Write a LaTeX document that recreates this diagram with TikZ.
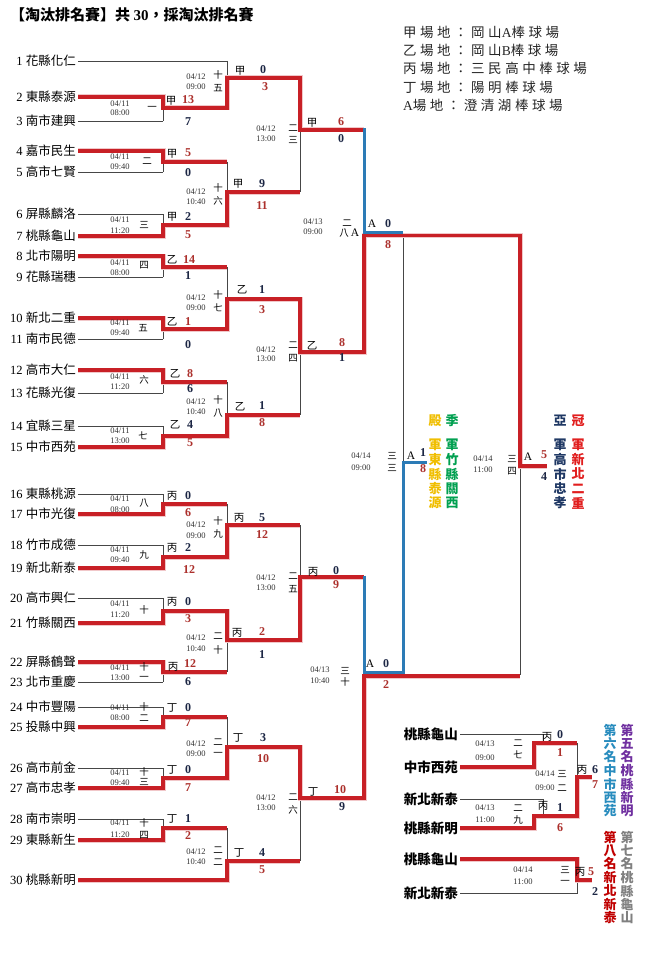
\documentclass[tikz,border=0pt]{standalone}
\usepackage{fontspec}
\setmainfont{Liberation Serif}
\newfontfamily\cjk{Noto Sans CJK TC}
\newfontfamily\cjkls[LetterSpace=26]{Noto Sans CJK TC}
\definecolor{wred}{RGB}{200,32,38}
\definecolor{sred}{RGB}{172,48,44}
\definecolor{snavy}{RGB}{28,38,68}
\definecolor{bblue}{RGB}{44,123,182}
\definecolor{thinc}{RGB}{70,70,70}
\definecolor{cgold}{RGB}{240,190,0}
\definecolor{cgreen}{RGB}{0,160,80}
\definecolor{cnavy}{RGB}{31,56,100}
\definecolor{cred}{RGB}{225,30,30}
\definecolor{cpurple}{RGB}{112,48,160}
\definecolor{cteal}{RGB}{40,140,190}
\definecolor{cgray}{RGB}{128,128,128}
\definecolor{cdred}{RGB}{192,0,0}
\tikzset{
  thinln/.style={draw=thinc, line width=0.8pt},
  redln/.style={draw=wred, line width=3.2pt, preaction={draw=wred!25, line width=5pt}},
  blueln/.style={draw=bblue, line width=3pt},
  team/.style={anchor=east, inner sep=0pt, font=\fontsize{12.5}{13}\selectfont},
  cteam/.style={anchor=east, inner sep=0pt, font=\cjk\bfseries\fontsize{13.5}{14}\selectfont},
  dt/.style={inner sep=0pt, font=\fontsize{8.5}{9}\selectfont, text=black!80},
  gno/.style={inner sep=0pt, font=\cjk\fontsize{9.5}{10}\selectfont},
  ven/.style={inner sep=0pt, font=\cjk\fontsize{10.5}{11}\selectfont},
  venA/.style={inner sep=0pt, font=\fontsize{11.5}{12}\selectfont},
  sw/.style={inner sep=0pt, font=\bfseries\fontsize{12}{12}\selectfont, text=sred},
  sl/.style={inner sep=0pt, font=\bfseries\fontsize{12}{12}\selectfont, text=snavy},
  vch/.style={inner sep=0pt, font=\cjk\bfseries\fontsize{13}{13}\selectfont},
  leg/.style={anchor=west, inner sep=0pt, font=\cjkls\fontsize{13.5}{14}\selectfont, text=black!85},
}
\newcommand\DT[6]{\node[dt] (#1d) at (#2,#3) {#5}; \node[dt] (#1t) at (#2,#4) {#6};}
\newcommand\LB[5]{\node[#2] (#1) at (#3,#4) {#5};}
\begin{document}
\begin{tikzpicture}[x=1pt,y=-1pt]
\useasboundingbox (0,0) rectangle (648,960);
\fill[white] (0,0) rectangle (648,960);

% title and legend
\node[anchor=west, inner sep=0pt, font=\cjk\bfseries\fontsize{15}{15}\selectfont] (title) at (10,15) {【淘汰排名賽】共 {\rmfamily\bfseries 30}，採淘汰排名賽};
\node[leg] (leg1) at (403,32) {甲場地：岡山{\rmfamily A}棒球場};
\node[leg] (leg2) at (403,50) {乙場地：岡山{\rmfamily B}棒球場};
\node[leg] (leg3) at (403,68) {丙場地：三民高中棒球場};
\node[leg] (leg4) at (403,87) {丁場地：陽明棒球場};
\node[leg] (leg5) at (403,105) {{\rmfamily A}場地：澄清湖棒球場};

% teams
\foreach \n/\y/\nm/\e in {1/61/花縣化仁/227, 2/97/東縣泰源/163, 3/121/南市建興/163, 4/151/嘉市民生/163, 5/172/高市七賢/163, 6/214/屏縣麟洛/163, 7/236/桃縣龜山/163, 8/256/北市陽明/163, 9/277/花縣瑞穗/163, 10/318/新北二重/163, 11/339/南市民德/163, 12/370/高市大仁/163, 13/393/花縣光復/163, 14/426/宜縣三星/163, 15/447/中市西苑/163, 16/494/東縣桃源/163, 17/514/中市光復/163, 18/545/竹市成德/163, 19/568/新北新泰/163, 20/598/高市興仁/163, 21/623/竹縣關西/163, 22/662/屏縣鶴聲/163, 23/682/北市重慶/163, 24/707/中市豐陽/163, 25/727/投縣中興/163, 26/768/高市前金/163, 27/788/高市忠孝/163, 28/819/南市崇明/163, 29/840/東縣新生/163, 30/880/桃縣新明/227}{
  \node[team] (t\n) at (76,\y) {\n\ {\cjk\nm}};
  \draw[thinln] ([xshift=2pt]t\n.east) -- (\e,\y);
}

% thin bracket lines
\foreach \a/\b/\o in {97/121/108, 151/172/162, 214/236/225, 256/277/267, 318/339/329, 370/393/382, 426/447/436, 494/514/504, 545/568/557, 598/623/611, 662/682/672, 707/727/717, 768/788/778, 819/840/828}
  \draw[thinln] (163,\a) -- (163,\b) (163,\o) -- (227,\o);
\foreach \a/\b/\o in {61/108/78, 162/225/192, 267/329/299, 382/436/415, 504/557/525, 611/672/640, 717/778/747, 828/880/861}
  \draw[thinln] (227,\a) -- (227,\b) (227,\o) -- (300,\o);
\foreach \a/\b/\o in {78/192/130, 299/415/352, 525/640/577, 747/861/798}
  \draw[thinln] (300,\a) -- (300,\b) (300,\o) -- (364,\o);
\draw[thinln] (364,130) -- (364,352) (364,577) -- (364,798);
\draw[thinln] (364,235) -- (520,235) (364,675) -- (520,675);
\draw[thinln] (403,235) -- (403,675) (403,462) -- (427,462);
\draw[thinln] (520,235) -- (520,675) (520,466) -- (547,466);

% winner paths
\draw[redln] ([xshift=2pt]t2.east) -- (163,97) -- (163,108) -- (227,108) -- (227,78) -- (300,78) -- (300,130) -- (364,130);
\draw[redln] ([xshift=2pt]t4.east) -- (163,151) -- (163,162) -- (227,162);
\draw[redln] ([xshift=2pt]t7.east) -- (163,236) -- (163,225) -- (227,225) -- (227,192) -- (300,192);
\draw[redln] ([xshift=2pt]t8.east) -- (163,256) -- (163,267) -- (227,267);
\draw[redln] ([xshift=2pt]t10.east) -- (163,318) -- (163,329) -- (227,329) -- (227,299) -- (300,299) -- (300,352) -- (364,352) -- (364,235.5) -- (520,235.5) -- (520,466) -- (547,466);
\draw[redln] ([xshift=2pt]t12.east) -- (163,370) -- (163,382) -- (227,382);
\draw[redln] ([xshift=2pt]t15.east) -- (163,447) -- (163,436) -- (227,436) -- (227,415) -- (300,415);
\draw[redln] ([xshift=2pt]t17.east) -- (163,514) -- (163,504) -- (227,504);
\draw[redln] ([xshift=2pt]t19.east) -- (163,568) -- (163,557) -- (227,557) -- (227,525) -- (300,525);
\draw[redln] ([xshift=2pt]t21.east) -- (163,623) -- (163,611) -- (227,611) -- (227,640) -- (300,640) -- (300,577) -- (364,577);
\draw[redln] ([xshift=2pt]t22.east) -- (163,662) -- (163,672) -- (227,672);
\draw[redln] ([xshift=2pt]t25.east) -- (163,727) -- (163,717) -- (227,717);
\draw[redln] ([xshift=2pt]t27.east) -- (163,788) -- (163,778) -- (227,778) -- (227,747) -- (300,747) -- (300,798) -- (364,798) -- (364,676) -- (520,676);
\draw[redln] ([xshift=2pt]t29.east) -- (163,840) -- (163,828) -- (227,828);
\draw[redln] ([xshift=2pt]t30.east) -- (227,880) -- (227,861) -- (300,861);
\draw[blueln] (364,128.5) -- (364,232.5) -- (403,232.5);
\draw[blueln] (364,575.5) -- (364,672.5) -- (403,672.5) -- (403,462) -- (427,462);

% round 1 labels
\DT{g1}{120}{104}{113}{04/11}{08:00}  \LB{g1n}{gno}{152}{108}{一}
\LB{g1v}{ven}{171}{101}{甲} \LB{g1a}{sw}{188}{100}{13} \LB{g1b}{sl}{188}{122}{7}
\DT{g2}{120}{157}{167}{04/11}{09:40}  \LB{g2n}{gno}{147}{161}{二}
\LB{g2v}{ven}{172}{154}{甲} \LB{g2a}{sw}{188}{153}{5} \LB{g2b}{sl}{188}{173}{0}
\DT{g3}{120}{220}{231}{04/11}{11:20}  \LB{g3n}{gno}{144}{225}{三}
\LB{g3v}{ven}{172}{217}{甲} \LB{g3a}{sl}{188}{217}{2} \LB{g3b}{sw}{188}{235}{5}
\DT{g4}{120}{263}{273}{04/11}{08:00}  \LB{g4n}{gno}{144}{265}{四}
\LB{g4v}{ven}{172}{260}{乙} \LB{g4a}{sw}{189}{260}{14} \LB{g4b}{sl}{188}{276}{1}
\DT{g5}{120}{323}{333}{04/11}{09:40}  \LB{g5n}{gno}{143}{328}{五}
\LB{g5v}{ven}{172}{322}{乙} \LB{g5a}{sw}{188}{322}{1} \LB{g5b}{sl}{188}{345}{0}
\DT{g6}{120}{377}{387}{04/11}{11:20}  \LB{g6n}{gno}{144}{380}{六}
\LB{g6v}{ven}{175}{374}{乙} \LB{g6a}{sw}{190}{374}{8} \LB{g6b}{sl}{190}{389}{6}
\DT{g7}{120}{431}{441}{04/11}{13:00}  \LB{g7n}{gno}{143}{436}{七}
\LB{g7v}{ven}{175}{425}{乙} \LB{g7a}{sl}{190}{425}{4} \LB{g7b}{sw}{190}{443}{5}
\DT{g8}{120}{499}{510}{04/11}{08:00}  \LB{g8n}{gno}{144}{503}{八}
\LB{g8v}{ven}{172}{496}{丙} \LB{g8a}{sl}{188}{496}{0} \LB{g8b}{sw}{188}{513}{6}
\DT{g9}{120}{550}{560}{04/11}{09:40}  \LB{g9n}{gno}{144}{555}{九}
\LB{g9v}{ven}{172}{548}{丙} \LB{g9a}{sl}{188}{548}{2} \LB{g9b}{sw}{189}{570}{12}
\DT{g10}{120}{604}{615}{04/11}{11:20}  \LB{g10n}{gno}{144}{610}{十}
\LB{g10v}{ven}{172}{602}{丙} \LB{g10a}{sl}{188}{602}{0} \LB{g10b}{sw}{188}{619}{3}
\DT{g11}{120}{668}{678}{04/11}{13:00}  \LB{g11n}{gno}{144}{667}{十} \LB{g11m}{gno}{144}{678}{一}
\LB{g11v}{ven}{173}{667}{丙} \LB{g11a}{sw}{190}{664}{12} \LB{g11b}{sl}{188}{682}{6}
\DT{g12}{120}{708}{718}{04/11}{08:00}  \LB{g12n}{gno}{144}{707}{十} \LB{g12m}{gno}{144}{718}{二}
\LB{g12v}{ven}{172}{708}{丁} \LB{g12a}{sl}{188}{708}{0} \LB{g12b}{sw}{188}{723}{7}
\DT{g13}{120}{773}{783}{04/11}{09:40}  \LB{g13n}{gno}{144}{772}{十} \LB{g13m}{gno}{144}{782}{三}
\LB{g13v}{ven}{172}{770}{丁} \LB{g13a}{sl}{188}{770}{0} \LB{g13b}{sw}{188}{788}{7}
\DT{g14}{120}{823}{835}{04/11}{11:20}  \LB{g14n}{gno}{144}{823}{十} \LB{g14m}{gno}{144}{835}{四}
\LB{g14v}{ven}{172}{819}{丁} \LB{g14a}{sl}{188}{819}{1} \LB{g14b}{sw}{188}{836}{2}

% round 2 labels
\DT{g15}{196}{77}{87}{04/12}{09:00}  \LB{g15n}{gno}{218}{75}{十} \LB{g15m}{gno}{218}{88}{五}
\LB{g15v}{ven}{240}{71}{甲} \LB{g15a}{sl}{263}{70}{0} \LB{g15b}{sw}{265}{87}{3}
\DT{g16}{196}{192}{202}{04/12}{10:40}  \LB{g16n}{gno}{218}{188}{十} \LB{g16m}{gno}{218}{201}{六}
\LB{g16v}{ven}{238}{184}{甲} \LB{g16a}{sl}{262}{184}{9} \LB{g16b}{sw}{262}{206}{11}
\DT{g17}{196}{298}{308}{04/12}{09:00}  \LB{g17n}{gno}{218}{295}{十} \LB{g17m}{gno}{218}{308}{七}
\LB{g17v}{ven}{242}{290}{乙} \LB{g17a}{sl}{262}{290}{1} \LB{g17b}{sw}{262}{310}{3}
\DT{g18}{196}{402}{412}{04/12}{10:40}  \LB{g18n}{gno}{218}{400}{十} \LB{g18m}{gno}{218}{413}{八}
\LB{g18v}{ven}{240}{407}{乙} \LB{g18a}{sl}{262}{406}{1} \LB{g18b}{sw}{262}{423}{8}
\DT{g19}{196}{525}{536}{04/12}{09:00}  \LB{g19n}{gno}{218}{521}{十} \LB{g19m}{gno}{218}{534}{九}
\LB{g19v}{ven}{239}{518}{丙} \LB{g19a}{sl}{262}{518}{5} \LB{g19b}{sw}{262}{535}{12}
\DT{g20}{196}{638}{649}{04/12}{10:40}  \LB{g20n}{gno}{218}{636}{二} \LB{g20m}{gno}{218}{650}{十}
\LB{g20v}{ven}{237}{633}{丙} \LB{g20a}{sw}{262}{632}{2} \LB{g20b}{sl}{262}{655}{1}
\DT{g21}{196}{744}{754}{04/12}{09:00}  \LB{g21n}{gno}{218}{742}{二} \LB{g21m}{gno}{218}{754}{一}
\LB{g21v}{ven}{238}{738}{丁} \LB{g21a}{sl}{263}{738}{3} \LB{g21b}{sw}{263}{759}{10}
\DT{g22}{196}{852}{862}{04/12}{10:40}  \LB{g22n}{gno}{218}{850}{二} \LB{g22m}{gno}{218}{862}{二}
\LB{g22v}{ven}{239}{853}{丁} \LB{g22a}{sl}{262}{853}{4} \LB{g22b}{sw}{262}{870}{5}

% round 3 labels
\DT{g23}{266}{129}{139}{04/12}{13:00}  \LB{g23n}{gno}{293}{128}{二} \LB{g23m}{gno}{293}{140}{三}
\LB{g23v}{ven}{312}{123}{甲} \LB{g23a}{sw}{341}{122}{6} \LB{g23b}{sl}{341}{139}{0}
\DT{g24}{266}{350}{359}{04/12}{13:00}  \LB{g24n}{gno}{293}{345}{二} \LB{g24m}{gno}{293}{358}{四}
\LB{g24v}{ven}{312}{346}{乙} \LB{g24a}{sw}{342}{343}{8} \LB{g24b}{sl}{342}{358}{1}
\DT{g25}{266}{578}{588}{04/12}{13:00}  \LB{g25n}{gno}{293}{576}{二} \LB{g25m}{gno}{293}{589}{五}
\LB{g25v}{ven}{313}{572}{丙} \LB{g25a}{sl}{336}{571}{0} \LB{g25b}{sw}{336}{585}{9}
\DT{g26}{266}{798}{808}{04/12}{13:00}  \LB{g26n}{gno}{293}{797}{二} \LB{g26m}{gno}{293}{810}{六}
\LB{g26v}{ven}{313}{792}{丁} \LB{g26a}{sw}{340}{790}{10} \LB{g26b}{sl}{342}{807}{9}

% semifinals, third place, final
\DT{g28}{313}{222}{232}{04/13}{09:00}  \LB{g28n}{gno}{347}{223}{二} \LB{g28m}{gno}{344}{233}{八}
\LB{g28x}{venA}{355}{233}{A}
\LB{g28v}{venA}{372}{224}{A} \LB{g28a}{sl}{388}{224}{0} \LB{g28b}{sw}{388}{245}{8}
\DT{g30}{320}{670}{681}{04/13}{10:40}  \LB{g30n}{gno}{345}{671}{三} \LB{g30m}{gno}{345}{682}{十}
\LB{g30v}{venA}{370}{664}{A} \LB{g30a}{sl}{386}{664}{0} \LB{g30b}{sw}{386}{685}{2}
\DT{g33}{361}{456}{468}{04/14}{09:00}  \LB{g33n}{gno}{392}{456}{三} \LB{g33m}{gno}{392}{468}{三}
\LB{g33v}{venA}{411}{456}{A} \LB{g33a}{sl}{423}{453}{1} \LB{g33b}{sw}{423}{469}{8}
\DT{g34}{483}{459}{470}{04/14}{11:00}  \LB{g34n}{gno}{512}{459}{三} \LB{g34m}{gno}{512}{471}{四}
\LB{g34v}{venA}{528}{457}{A} \LB{g34a}{sw}{544}{455}{5} \LB{g34b}{sl}{544}{477}{4}

% podium columns
\LB{p4h}{vch, text=cgold}{435}{421}{殿}
\foreach \c [count=\i] in {軍,東,縣,泰,源} \node[vch, text=cgold] (p4c\i) at (435,445+14.5*\i-14.5) {\c};
\LB{p3h}{vch, text=cgreen}{452}{421}{季}
\foreach \c [count=\i] in {軍,竹,縣,關,西} \node[vch, text=cgreen] (p3c\i) at (452,445+14.5*\i-14.5) {\c};
\LB{p2h}{vch, text=cnavy}{560}{421}{亞}
\foreach \c [count=\i] in {軍,高,市,忠,孝} \node[vch, text=cnavy] (p2c\i) at (560,445+14.5*\i-14.5) {\c};
\LB{p1h}{vch, text=cred}{578}{421}{冠}
\foreach \c [count=\i] in {軍,新,北,二,重} \node[vch, text=cred] (p1c\i) at (578,445+14.5*\i-14.5) {\c};

% consolation bracket
\node[cteam] (c1) at (458,734) {桃縣龜山};
\node[cteam] (c2) at (458,767) {中市西苑};
\node[cteam] (c3) at (458,799) {新北新泰};
\node[cteam] (c4) at (458,828) {桃縣新明};
\node[cteam] (c5) at (458,859) {桃縣龜山};
\node[cteam] (c6) at (458,893) {新北新泰};
\draw[thinln] ([xshift=2pt]c1.east) -- (543,734) -- (543,743);
\draw[thinln] ([xshift=2pt]c3.east) -- (543,799) -- (543,816);
\draw[thinln] (577,743) -- (577,816);
\draw[thinln] ([xshift=2pt]c6.east) -- (577,893) -- (577,880);
\draw[redln] ([xshift=2pt]c2.east) -- (534,767) -- (534,743) -- (577,743);
\draw[redln] ([xshift=2pt]c4.east) -- (534,828) -- (534,816) -- (577,816) -- (577,777) -- (592,777);
\draw[redln] ([xshift=2pt]c5.east) -- (577,859) -- (577,880) -- (592,880);
\DT{h27}{485}{744}{758}{04/13}{09:00}  \LB{h27n}{gno}{518}{743}{二} \LB{h27m}{gno}{518}{755}{七}
\LB{h27v}{ven}{547}{737}{丙} \LB{h27a}{sl}{560}{735}{0} \LB{h27b}{sw}{560}{753}{1}
\DT{h29}{485}{808}{820}{04/13}{11:00}  \LB{h29n}{gno}{518}{808}{二} \LB{h29m}{gno}{518}{820}{九}
\LB{h29v}{ven}{543}{806}{丙} \LB{h29a}{sl}{560}{808}{1} \LB{h29b}{sw}{560}{828}{6}
\DT{h32}{545}{774}{788}{04/14}{09:00}  \LB{h32n}{gno}{562}{774}{三} \LB{h32m}{gno}{562}{788}{二}
\LB{h32v}{ven}{582}{770}{丙} \LB{h32a}{sl}{595}{770}{6} \LB{h32b}{sw}{595}{785}{7}
\DT{h31}{523}{870}{882}{04/14}{11:00}  \LB{h31n}{gno}{565}{870}{三} \LB{h31m}{gno}{565}{882}{一}
\LB{h31v}{ven}{580}{872}{丙} \LB{h31a}{sw}{591}{872}{5} \LB{h31b}{sl}{595}{892}{2}

\foreach \c [count=\i] in {第,五,名,桃,縣,新,明} \node[vch, text=cpurple] (r5c\i) at (627,730+13.5*\i-13.5) {\c};
\foreach \c [count=\i] in {第,六,名,中,市,西,苑} \node[vch, text=cteal] (r6c\i) at (610,730+13.5*\i-13.5) {\c};
\foreach \c [count=\i] in {第,七,名,桃,縣,龜,山} \node[vch, text=cgray] (r7c\i) at (627,837+13.5*\i-13.5) {\c};
\foreach \c [count=\i] in {第,八,名,新,北,新,泰} \node[vch, text=cdred] (r8c\i) at (610,837+13.5*\i-13.5) {\c};
\end{tikzpicture}
\end{document}
